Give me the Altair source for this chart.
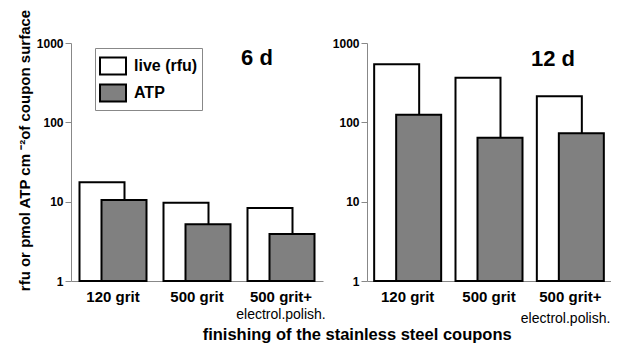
import altair as alt
import pandas as pd

categories = ["120 grit", "500 grit", "500 grit+"]
series_names = ["live (rfu)", "ATP"]
live_6d = [17.6, 9.7, 8.3]
atp_6d = [10.5, 5.2, 3.9]
live_12d = [540, 365, 213]
atp_12d = [125, 64, 73]
y_ticks = [1, 10, 100, 1000]
panel_labels = ["6 d", "12 d"]
second_line = "electrol.polish."
y_title = "rfu or pmol ATP cm \u207b\u00b2of coupon surface"
x_title = "finishing of the stainless steel coupons"

FONT = "Liberation Sans"
H = 238


def frame(live, atp):
    rows = []
    for c, v in zip(categories, live):
        rows.append({"category": c, "series": series_names[0], "value": v})
    for c, v in zip(categories, atp):
        rows.append({"category": c, "series": series_names[1], "value": v})
    return pd.DataFrame(rows)


color = alt.Color(
    "series:N",
    scale=alt.Scale(domain=series_names, range=["#ffffff", "#808080"]),
    legend=alt.Legend(
        title=None,
        orient="none",
        legendX=24,
        legendY=5,
        symbolType="M-1,-0.654H1V0.654H-1Z",
        symbolSize=676,
        symbolStrokeColor="black",
        symbolStrokeWidth=2,
        symbolOpacity=1,
        labelFont=FONT,
        labelFontSize=16,
        labelFontWeight="bold",
        labelColor="black",
        labelOffset=7,
        padding=4,
        rowPadding=0,
        strokeColor="#888888",
        fillColor="white",
    ),
)


def panel(df, label, width, show_title, sub_dy, sub_align, sub_dx, lab_x, lab_y):
    base = alt.Chart(df)
    x = alt.X(
        "category:N",
        sort=categories,
        scale=alt.Scale(paddingInner=0, paddingOuter=0),
        axis=alt.Axis(title=None, labelAngle=0),
    )
    yaxis = alt.Axis(values=y_ticks, format="d", title=None)
    if show_title:
        yaxis = alt.Axis(
            values=y_ticks,
            format="d",
            title=y_title,
            titleFont=FONT,
            titleFontSize=15,
            titleFontWeight="bold",
            titleColor="black",
            titlePadding=4,
            titleY=107,
        )
    y = alt.Y("value:Q", scale=alt.Scale(type="log", domain=[1, 1000]), axis=yaxis)
    live = base.transform_filter(alt.datum.series == series_names[0]).mark_bar(
        width=45, xOffset=-11, stroke="black", strokeWidth=2
    ).encode(x=x, y=y, y2=alt.datum(1), color=color)
    atp = base.transform_filter(alt.datum.series == series_names[1]).mark_bar(
        width=45, xOffset=11, stroke="black", strokeWidth=2
    ).encode(x=x, y=y, y2=alt.datum(1), color=color)
    sub = base.transform_filter(
        (alt.datum.category == categories[2]) & (alt.datum.series == series_names[1])
    ).mark_text(
        text=second_line, font=FONT, fontSize=14, color="black", baseline="middle",
        align=sub_align, dx=sub_dx,
    ).encode(x=alt.X("category:N", sort=categories), y=alt.value(H + sub_dy))
    lab = alt.Chart(pd.DataFrame({"label": [label]})).mark_text(
        font=FONT, fontSize=22, fontWeight="bold", color="black", baseline="middle"
    ).encode(x=alt.value(lab_x), y=alt.value(lab_y), text="label:N")
    return alt.layer(live, atp, sub, lab).properties(width=width, height=H)


left = panel(frame(live_6d, atp_6d), panel_labels[0], 252, True, 34, "center", 0, 186, 15)
right = panel(frame(live_12d, atp_12d), panel_labels[1], 244, False, 38, "right", 40, 186, 16)

chart = alt.hconcat(left, right, spacing=6).properties(
    title=alt.TitleParams(
        x_title,
        orient="bottom",
        anchor="middle",
        dx=43,
        offset=1,
        font=FONT,
        fontSize=16.5,
        fontWeight="bold",
        color="black",
    ),
    padding={"left": 9, "top": 0, "right": 0, "bottom": 0},
).configure_view(stroke=None).configure_axis(
    labelFont=FONT,
    labelFontWeight="bold",
    labelColor="black",
    domainColor="#888888",
    tickColor="#888888",
    grid=False,
).configure_axisY(labelFontSize=12, tickSize=6, labelPadding=2).configure_axisX(
    labelFontSize=15, ticks=False, labelPadding=8
)

chart.save("out.html", embed_options={"renderer": "svg", "actions": False})
